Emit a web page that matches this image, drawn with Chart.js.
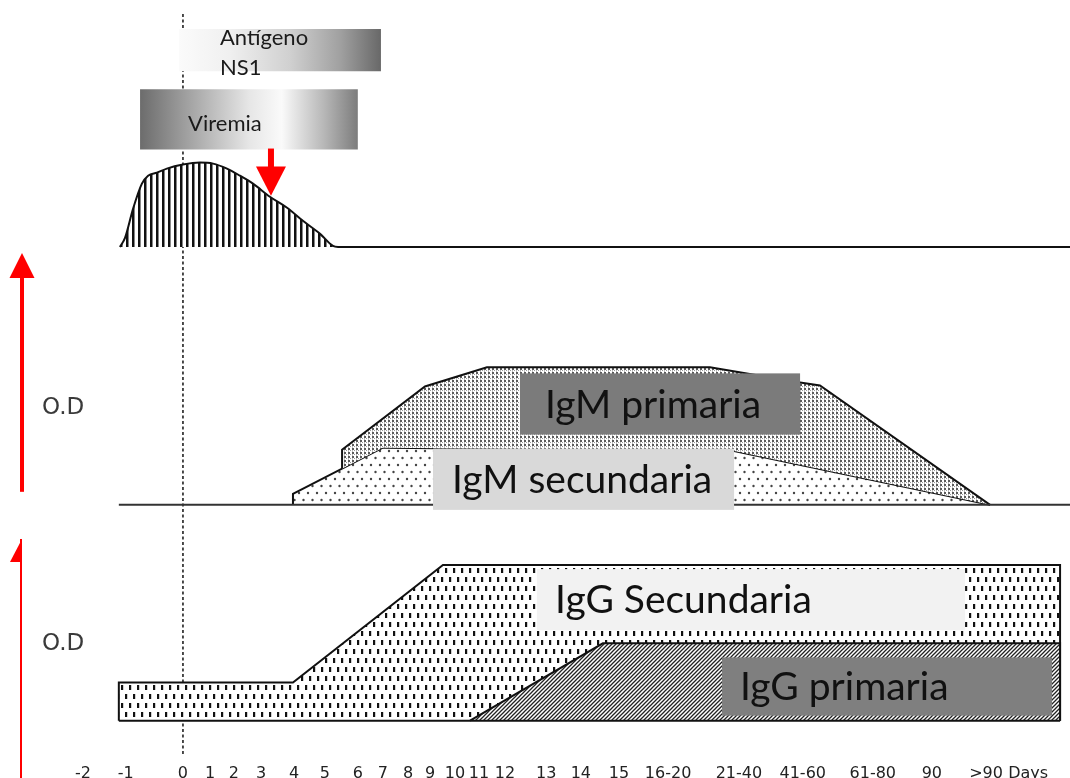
<!DOCTYPE html>
<html>
<head>
<meta charset="utf-8">
<script src="https://cdn.jsdelivr.net/npm/chart.js@4.4.1/dist/chart.umd.min.js"></script>
<style>
  html, body { margin: 0; padding: 0; background: #fff; }
  #wrap { width: 1070px; height: 778px; position: relative; }
</style>
</head>
<body>
<div id="wrap"><canvas id="chart"></canvas></div>
<script>
// --- AXIS ---
const tickLabels = ['-2', '-1', '0', '1', '2', '3', '4', '5', '6', '7', '8', '9', '10', '11', '12', '13', '14', '15', '16-20', '21-40', '41-60', '61-80', '90', '>90', 'Days'];
const tickPos = [-3.73, -2.13, 0, 1.01, 1.9, 2.91, 4.14, 5.29, 6.52, 7.45, 8.39, 9.21, 10.14, 11.03, 12, 13.54, 14.83, 16.25, 18.08, 20.72, 23.1, 25.71, 27.91, 29.93, 31.5];

// --- TOP PANEL: viremia curve + bands ---
const viremiaX = [-2.35, -2.16, -1.86, -1.53, -1.3, -0.97, -0.6, 0, 0.63, 1.12, 1.64, 2.12, 2.61, 3.24, 3.88, 4.47, 5.11, 5.59, 5.78, 33.06];
const viremiaY = [0, 4.5, 19, 31.5, 35.5, 37, 39, 41, 42, 41.5, 39, 35.5, 31.5, 25, 19.5, 13, 6.5, 0.5, 0, 0];
const ns1Span = [-0.15, 7.38];
const ns1Band = [87.5, 108.5];
const viremiaSpan = [-1.6, 6.52];
const viremiaBand = [48.5, 78.5];

// --- MIDDLE PANEL: IgM ---
const igmSecX = [4.1, 4.1, 7.45, 20.5, 30.08];
const igmSecY = [0, 5.5, 28.5, 27, 0];
const igmPrimX = [5.93, 5.93, 9.02, 11.33, 19.64, 23.0, 23.74, 30.08];
const igmPrimY = [18, 27.5, 59, 68.5, 68.5, 61, 59.5, 0];
const igmBaseX = [-2.39, 33.06];

// --- BOTTOM PANEL: IgG ---
const iggSecX = [-2.39, -2.39, 4.1, 9.69, 32.69, 32.69];
const iggSecY = [0, 19, 19, 77.5, 77.5, 0];
const iggPrimX = [10.7, 15.65, 32.69, 32.69];
const iggPrimY = [0, 38.5, 38.5, 0];
const iggBaseX = [-2.39, 32.69];

const toPoints = (xs, ys) => xs.map((x, i) => ({ x, y: ys[i] }));

// --- PATTERNS ---
const makePattern = (w, h, draw) => {
    const c = document.createElement('canvas');
    c.width = w; c.height = h;
    const g = c.getContext('2d');
    g.fillStyle = '#fff';
    g.fillRect(0, 0, w, h);
    draw(g);
    return g.createPattern(c, 'repeat');
};
const stripes = makePattern(6, 4, g => { g.fillStyle = '#111'; g.fillRect(0, 0, 2.5, 4); });
const sparseDots = makePattern(9, 14, g => {
    g.fillStyle = '#444';
    g.beginPath(); g.arc(2, 3, 1.2, 0, Math.PI * 2); g.fill();
    g.beginPath(); g.arc(6.5, 10, 1.2, 0, Math.PI * 2); g.fill();
});
const denseDots = makePattern(4, 4, g => {
    g.fillStyle = '#5a5a5a'; g.fillRect(0, 0, 2, 2);
    g.fillStyle = '#999'; g.fillRect(2, 2, 1, 1);
    g.fillStyle = '#bbb'; g.fillRect(0, 2, 1, 2);
});
const dashDots = makePattern(8, 18, g => {
    g.fillStyle = '#111';
    g.fillRect(1, 1, 2.2, 5);
    g.fillRect(5, 10, 2.2, 5);
});
const hatch = makePattern(4, 4, g => {
    g.strokeStyle = '#222'; g.lineWidth = 1.3;
    g.beginPath();
    g.moveTo(0, 4); g.lineTo(4, 0);
    g.moveTo(-1, 1); g.lineTo(1, -1);
    g.moveTo(3, 5); g.lineTo(5, 3);
    g.stroke();
});

const gradientFill = (span, stops) => (c) => {
    const { chart } = c;
    if (!chart.chartArea) return '#ccc';
    const xs = chart.scales.x;
    const g = chart.ctx.createLinearGradient(xs.getPixelForValue(span[0]), 0, xs.getPixelForValue(span[1]), 0);
    stops.forEach(([p, col]) => g.addColorStop(p, col));
    return g;
};

const lineBase = { pointRadius: 0, borderColor: '#111', borderWidth: 2, borderJoinStyle: 'miter', tension: 0 };

const datasets = [
    { ...lineBase, yAxisID: 'yTop', order: 1, borderWidth: 0,
      data: [{ x: ns1Span[0], y: ns1Band[1] }, { x: ns1Span[1], y: ns1Band[1] }],
      fill: { value: ns1Band[0] },
      backgroundColor: gradientFill(ns1Span, [[0, '#fbfbfb'], [0.25, '#f0f0f0'], [0.55, '#d0d0d0'], [0.8, '#a0a0a0'], [1, '#686868']]) },
    { ...lineBase, yAxisID: 'yTop', order: 1, borderWidth: 0,
      data: [{ x: viremiaSpan[0], y: viremiaBand[1] }, { x: viremiaSpan[1], y: viremiaBand[1] }],
      fill: { value: viremiaBand[0] },
      backgroundColor: gradientFill(viremiaSpan, [[0, '#6c6c6c'], [0.25, '#a9a9a9'], [0.5, '#e6e6e6'], [0.65, '#fafafa'], [0.85, '#b5b5b5'], [1, '#7c7c7c']]) },
    { ...lineBase, yAxisID: 'yTop', order: 2, data: toPoints(viremiaX, viremiaY),
      cubicInterpolationMode: 'monotone', fill: 'origin', backgroundColor: stripes },
    { ...lineBase, yAxisID: 'yMid', order: 0, data: toPoints(igmBaseX, [0, 0]), fill: false, borderColor: '#333' },
    { ...lineBase, yAxisID: 'yMid', order: 4, data: toPoints(igmSecX, igmSecY), fill: 'origin', backgroundColor: sparseDots },
    { ...lineBase, yAxisID: 'yMid', order: 3, data: toPoints(igmPrimX, igmPrimY), fill: 4, backgroundColor: denseDots },
    { ...lineBase, yAxisID: 'yBot', order: 0, data: toPoints(iggBaseX, [0, 0]), fill: false },
    { ...lineBase, yAxisID: 'yBot', order: 4, data: toPoints(iggSecX, iggSecY), fill: 'origin', backgroundColor: dashDots },
    { ...lineBase, yAxisID: 'yBot', order: 3, data: toPoints(iggPrimX, iggPrimY), fill: 'origin', backgroundColor: hatch }
];

// --- ANNOTATIONS (positions in axis units) ---
const boxNotes = [
    { text: 'IgM primaria', axis: 'yMid', x0: 12.56, x1: 23.0, y0: 35, y1: 65.5, tx: 13.49, fill: '#7b7b7b' },
    { text: 'IgM secundaria', axis: 'yMid', x0: 9.32, x1: 20.54, y0: -2.5, y1: 28, tx: 10.03, fill: '#d9d9d9' },
    { text: 'IgG Secundaria', axis: 'yBot', x0: 13.19, x1: 29.15, y0: 45, y1: 75.5, tx: 13.87, fill: '#f2f2f2' },
    { text: 'IgG primaria', axis: 'yBot', x0: 20.09, x1: 32.39, y0: 2.5, y1: 31.5, tx: 20.76, fill: '#7f7f7f' }
];
const bandNotes = [
    { text: 'Antígeno', x: 1.38, y: 104 },
    { text: 'NS1', x: 1.38, y: 89 },
    { text: 'Viremia', x: 0.19, y: 61.5 }
];

const arrowDown = (ctx, x, yTail, yHead, yTip, shaft, head) => {
    ctx.fillRect(x - shaft / 2, yTail, shaft, yHead - yTail + 1);
    ctx.beginPath();
    ctx.moveTo(x - head / 2, yHead); ctx.lineTo(x + head / 2, yHead); ctx.lineTo(x, yTip);
    ctx.closePath(); ctx.fill();
};

const annotate = {
    id: 'annotate',
    beforeDatasetsDraw(chart) {
        const { ctx, scales: { x, yTop, yBot } } = chart;
        const px = x.getPixelForValue(0);
        ctx.save();
        ctx.strokeStyle = '#222';
        ctx.lineWidth = 1.6;
        ctx.setLineDash([3, 2.5]);
        ctx.beginPath();
        ctx.moveTo(px, yTop.getPixelForValue(116));
        ctx.lineTo(px, yBot.getPixelForValue(-17));
        ctx.stroke();
        ctx.restore();
    },
    afterDatasetsDraw(chart) {
        const { ctx, chartArea, scales } = chart;
        const x = scales.x;
        ctx.save();
        // label boxes
        boxNotes.forEach(b => {
            const y = scales[b.axis];
            const l = x.getPixelForValue(b.x0), r = x.getPixelForValue(b.x1);
            const t = y.getPixelForValue(b.y1), btm = y.getPixelForValue(b.y0);
            ctx.fillStyle = b.fill;
            ctx.fillRect(l, t, r - l, btm - t);
            ctx.fillStyle = '#111';
            ctx.font = '39px Lato';
            ctx.textBaseline = 'middle';
            ctx.textAlign = 'left';
            ctx.fillText(b.text, x.getPixelForValue(b.tx), (t + btm) / 2 + 1);
        });
        ctx.fillStyle = '#1a1a1a';
        ctx.font = '22px Lato';
        ctx.textBaseline = 'middle';
        bandNotes.forEach(n => ctx.fillText(n.text, x.getPixelForValue(n.x), scales.yTop.getPixelForValue(n.y)));

        // red arrows
        ctx.fillStyle = '#ff0000';
        const yT = scales.yTop;
        arrowDown(ctx, x.getPixelForValue(3.28), yT.getPixelForValue(49), yT.getPixelForValue(40), yT.getPixelForValue(25.5), 6, 30);
        const ax = chartArea.left - 48;
        const yM = scales.yMid, yB = scales.yBot;
        // upper O.D arrow
        const tip1 = yM.getPixelForValue(125.5), base1 = yM.getPixelForValue(113);
        ctx.fillRect(ax - 2, base1, 4, yM.getPixelForValue(6.5) - base1);
        ctx.beginPath();
        ctx.moveTo(ax - 12.5, base1); ctx.lineTo(ax + 12.5, base1); ctx.lineTo(ax, tip1);
        ctx.closePath(); ctx.fill();
        // lower O.D arrow (half head)
        const tip2 = yB.getPixelForValue(90.5), base2 = yB.getPixelForValue(79);
        ctx.fillRect(ax - 2, tip2, 2, chart.height - tip2);
        ctx.beginPath();
        ctx.moveTo(ax - 12, base2); ctx.lineTo(ax, base2); ctx.lineTo(ax, tip2);
        ctx.closePath(); ctx.fill();

        // O.D labels
        ctx.fillStyle = '#3a3a3a';
        ctx.font = '23px "DejaVu Sans"';
        ctx.textAlign = 'left';
        ctx.fillText('O.D', ax + 20, yM.getPixelForValue(48));
        ctx.fillText('O.D', ax + 20, yB.getPixelForValue(38));
        ctx.restore();
    }
};

const hiddenY = (min, max, weight) => ({
    type: 'linear', display: false, min, max, stack: 'panels', stackWeight: weight, offset: false
});

new Chart(document.getElementById('chart'), {
    type: 'line',
    data: { datasets },
    options: {
        responsive: true,
        maintainAspectRatio: false,
        animation: false,
        devicePixelRatio: 1,
        layout: { padding: { left: 70, right: 0, top: 0, bottom: -10 } },
        plugins: { legend: { display: false }, tooltip: { enabled: false } },
        scales: {
            x: {
                type: 'linear', min: -4.21, max: 33.06,
                grid: { display: false, drawTicks: false },
                border: { display: false },
                afterBuildTicks: (scale) => { scale.ticks = tickPos.map(value => ({ value })); },
                ticks: {
                    autoSkip: false, maxRotation: 0, padding: 5,
                    color: '#222',
                    font: { family: 'DejaVu Sans', size: 16 },
                    callback: (value, index) => tickLabels[index]
                }
            },
            yBot: hiddenY(-19, 101.5, 241),
            yMid: hiddenY(-6, 121.5, 255),
            yTop: hiddenY(-7, 123, 260)
        }
    },
    plugins: [annotate]
});
</script>
</body>
</html>
